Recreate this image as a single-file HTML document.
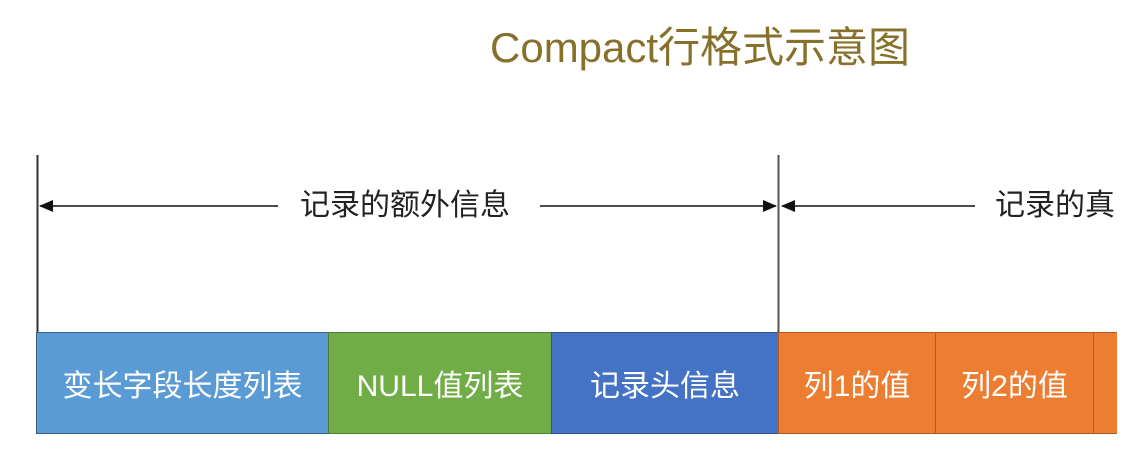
<!DOCTYPE html>
<html><head><meta charset="utf-8"><style>
body{margin:0;width:1139px;height:462px;background:#fff;position:relative;overflow:hidden;font-family:"Liberation Sans","Noto Sans CJK SC",sans-serif}
.t{position:absolute;white-space:nowrap;line-height:1}
.b{position:absolute;top:332px;height:102px;color:#fff;font-size:30px;display:flex;align-items:center;justify-content:center;box-sizing:border-box;border:1px solid #3d5f86}
</style></head><body>
<div class="t" style="left:490px;top:27px;font-size:42px;color:#86702a">Compact行格式示意图</div>
<svg width="1139" height="462" style="position:absolute;left:0;top:0">
<line x1="37.5" y1="155" x2="37.5" y2="334" stroke="#333" stroke-width="2"/>
<line x1="778.5" y1="155" x2="778.5" y2="334" stroke="#555" stroke-width="2"/>
<line x1="40" y1="206" x2="278" y2="206" stroke="#111" stroke-width="1.5"/>
<line x1="540" y1="206" x2="776" y2="206" stroke="#111" stroke-width="1.5"/>
<line x1="782" y1="206" x2="975" y2="206" stroke="#111" stroke-width="1.5"/>
<polygon points="39,206 53,200 53,212" fill="#111"/>
<polygon points="777,206 763,200 763,212" fill="#111"/>
<polygon points="781,206 795,200 795,212" fill="#111"/>
</svg>
<div class="t" style="left:300px;top:191px;font-size:30px;color:#222">记录的额外信息</div>
<div class="t" style="left:995px;top:191px;font-size:30px;color:#222">记录的真</div>
<div class="b" style="left:36px;width:293px;background:#5b9bd5">变长字段长度列表</div>
<div class="b" style="left:328px;width:224px;background:#70ad47;border-color:#4f7a33">NULL值列表</div>
<div class="b" style="left:551px;width:228px;background:#4472c4;border-color:#2f528f">记录头信息</div>
<div class="b" style="left:778px;width:158px;background:#ed7d31;border-color:#ae5a21">列1的值</div>
<div class="b" style="left:935px;width:159px;background:#ed7d31;border-color:#ae5a21">列2的值</div>
<div class="b" style="left:1093px;width:24px;background:#ed7d31;border-color:#ae5a21;border-right:none"></div>
</body></html>
